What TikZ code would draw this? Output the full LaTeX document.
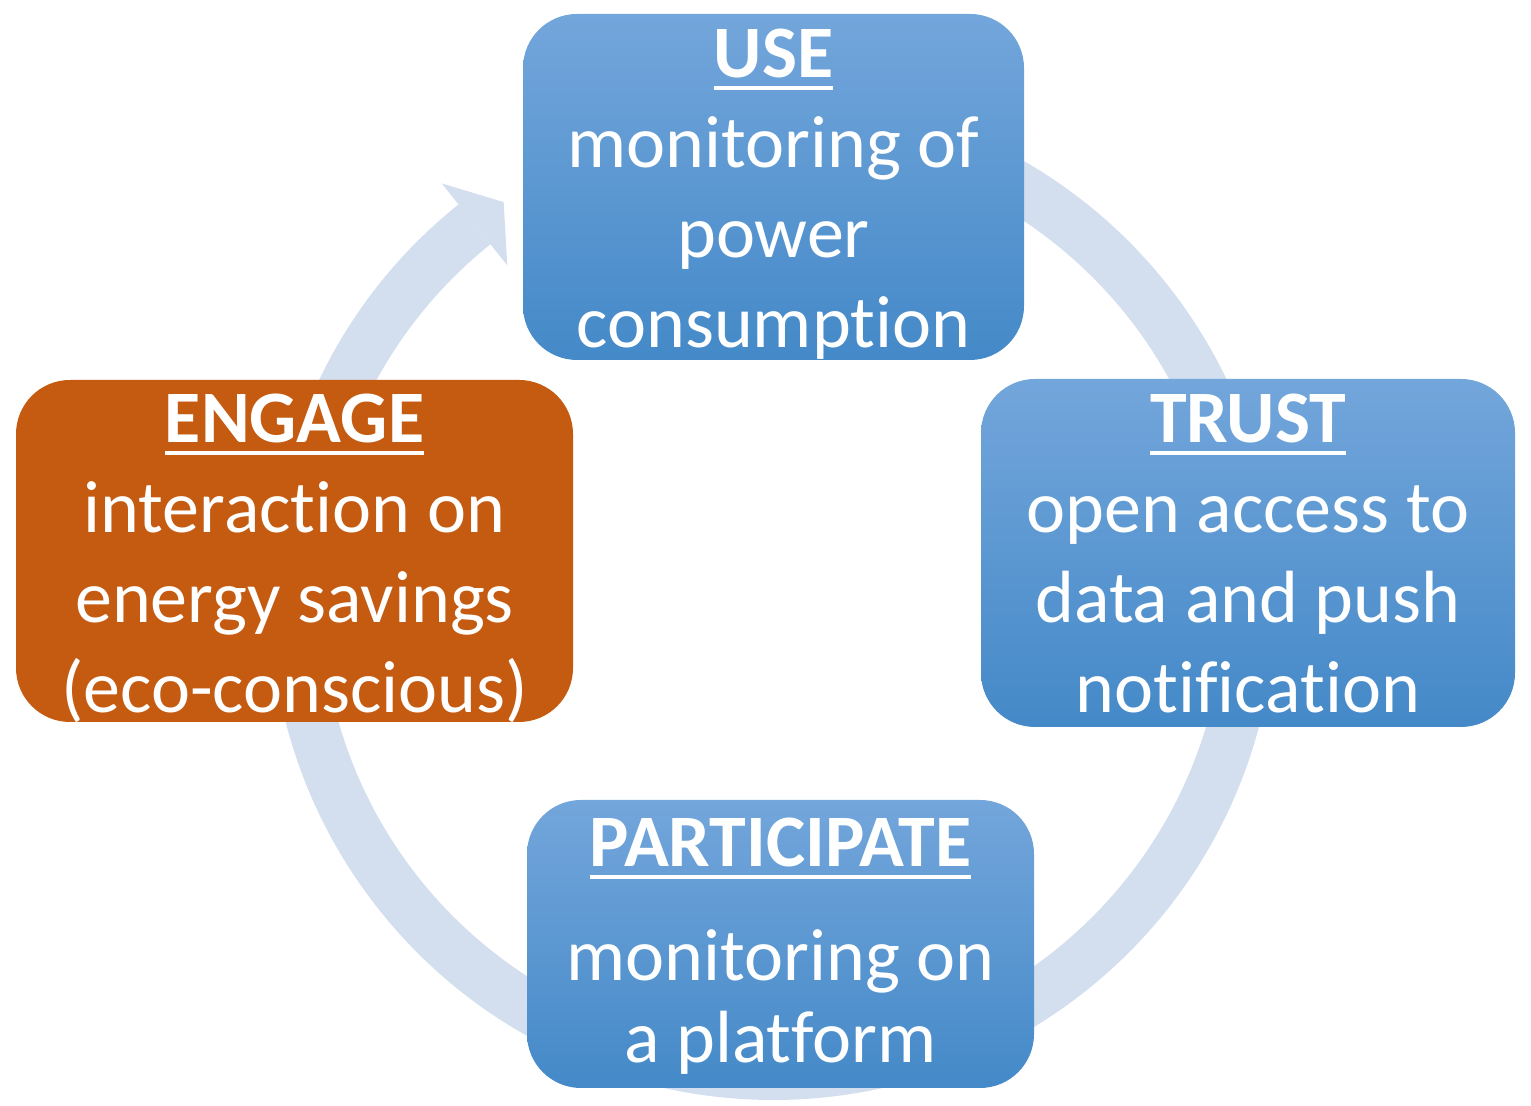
\documentclass[tikz,border=0pt]{standalone}
\usepackage{fontspec}
\setmainfont{Carlito}[Ligatures={NoCommon}]
\definecolor{ringc}{RGB}{211,222,239}
\definecolor{btop}{RGB}{115,166,219}
\definecolor{bmid}{RGB}{85,153,218}
\definecolor{bbot}{RGB}{68,137,200}
\definecolor{engc}{RGB}{197,90,17}
\newcommand\ttl[1]{\setbox0\hbox{\bfseries #1}\rlap{\rule[-6pt]{\wd0}{2.2pt}}\box0}
\newcommand\lnA{\rule[-13.5pt]{0pt}{45pt}}
\newcommand\lnB{\rule[-12.3pt]{0pt}{41pt}}
\tikzset{
  cyc/.style={rounded corners=27pt, inner sep=0pt, draw=none},
  bluebox/.style={cyc, top color=btop, middle color=bmid, bottom color=bbot},
  orangebox/.style={cyc, fill=engc},
  ttext/.style={text=white, font=\fontsize{37}{45}\selectfont, inner sep=0pt, anchor=base},
  btext/.style={text=white, font=\fontsize{37}{45}\selectfont, align=center, inner sep=0pt, anchor=north},
  btextB/.style={text=white, font=\fontsize{37}{41}\selectfont, align=center, inner sep=0pt, anchor=north},
}
\begin{document}
\begin{tikzpicture}[x=0.5pt,y=0.5pt]
\useasboundingbox (0,0) rectangle (1531,1106);
% cycle ring with arrowhead
\begin{scope}[shift={(773,509)}]
  \fill[ringc] (128.7:503) arc[start angle=128.7,end angle=460,radius=503]
     -- (100:452) arc[start angle=460,end angle=128.7,radius=452] -- cycle;
  \fill[ringc] (128.7:530) -- (124.3:478) -- (128.7:425) -- cycle;
\end{scope}
% boxes
\node[bluebox, minimum width=250.5pt, minimum height=173pt] (use) at (773.5,919) {};
\node[bluebox, minimum width=267pt, minimum height=174pt] (trust) at (1248,553) {};
\node[bluebox, minimum width=253.5pt, minimum height=144pt] (part) at (780.5,162) {};
\node[orangebox, minimum width=278.5pt, minimum height=171pt] (engage) at (294.5,555) {};
% texts
\node[ttext] (usetitle) at (773.5,1028) {\ttl{USE}};
\node[btext] (usebody) at (773.5,1002) {\lnA monitoring of\\\lnA power\\\lnA consumption};
\node[ttext] (trusttitle) at (1248,663) {\ttl{TRUST}};
\node[btext] (trustbody) at (1248,637) {\lnA open access to\\\lnA data and push\\\lnA notification};
\node[ttext] (engtitle) at (294.5,663) {\ttl{ENGAGE}};
\node[btext] (engbody) at (294.5,637) {\lnA interaction on\\\lnA energy savings\\\lnA (eco-conscious)};
\node[ttext] (parttitle) at (780.5,239) {\ttl{PARTICIPATE}};
\node[btextB] (partbody) at (780.5,183.4) {\lnB monitoring on\\\lnB a platform};
\end{tikzpicture}
\end{document}
